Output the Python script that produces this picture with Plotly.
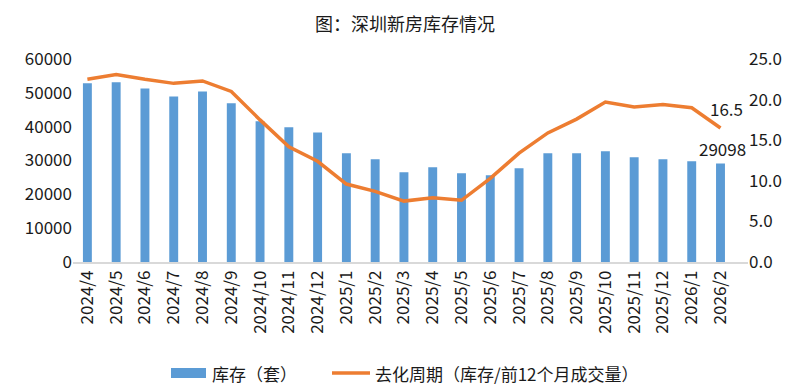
import plotly.graph_objects as go

months = ["2024/4", "2024/5", "2024/6", "2024/7", "2024/8", "2024/9", "2024/10", "2024/11", "2024/12",
          "2025/1", "2025/2", "2025/3", "2025/4", "2025/5", "2025/6", "2025/7", "2025/8", "2025/9",
          "2025/10", "2025/11", "2025/12", "2026/1", "2026/2"]

inventory = [52800, 53100, 51300, 48900, 50400, 46900, 41600, 39800, 38300,
             32150, 30400, 26550, 28000, 26250, 25650, 27700, 32150, 32150,
             32700, 30950, 30400, 29800, 29098]
cycle = [22.5, 23.1, 22.5, 22.0, 22.3, 21.0, 17.5, 14.2, 12.4,
         9.6, 8.7, 7.5, 7.9, 7.6, 10.3, 13.4, 15.9, 17.6,
         19.7, 19.1, 19.4, 19.0, 16.5]

name_bar = "库存（套）"
name_line = "去化周期（库存/前12个月成交量）"
title = "图：深圳新房库存情况"

FONT = "Noto Sans CJK SC, Noto Sans, sans-serif"
TXT = "#1a1a1a"
BLUE = "#5B9BD5"
ORANGE = "#ED7D31"

# page body has an 8px margin, so the figure is drawn 8px in from the corner
OFF = 8
W, H = 810 - OFF, 390 - OFF
ml, mr, mt, mb = 73 - OFF, 62, 59 - OFF, 128

fig = go.Figure()
fig.add_trace(go.Bar(
    x=months, y=inventory, name=name_bar,
    marker=dict(color=BLUE, line=dict(width=0)),
    yaxis="y", showlegend=False,
))
fig.add_trace(go.Scatter(
    x=months, y=cycle, name=name_line, mode="lines",
    line=dict(color=ORANGE, width=3.5),
    yaxis="y2", showlegend=False,
))

# data labels on the last points
fig.add_annotation(x=months[-1], y=inventory[-1], yref="y", text=str(inventory[-1]),
                   showarrow=False, yanchor="bottom", yshift=1, xshift=2,
                   font=dict(size=17, color=TXT, family=FONT))
fig.add_annotation(x=months[-1], y=cycle[-1], yref="y2", text=f"{cycle[-1]:.1f}",
                   showarrow=False, yanchor="bottom", yshift=5, xshift=6,
                   font=dict(size=17, color=TXT, family=FONT))

# title and manual legend (paper coordinates, given in page pixels)
pw, ph = W - ml - mr, H - mt - mb

def px(x):
    return (x - OFF - ml) / pw

def py(y):
    return (H - mb - (y - OFF)) / ph

fig.add_annotation(xref="paper", yref="paper", x=px(405), y=py(OFF), text=title,
                   showarrow=False, xanchor="center", yanchor="top",
                   font=dict(size=18, color=TXT, family=FONT))

ly = 373
fig.add_shape(type="rect", xref="paper", yref="paper",
              x0=px(171), x1=px(206), y0=py(378), y1=py(368),
              fillcolor=BLUE, line=dict(width=0))
fig.add_annotation(xref="paper", yref="paper", x=px(210), y=py(ly), text=name_bar,
                   showarrow=False, xanchor="left", yanchor="middle",
                   font=dict(size=17, color=TXT, family=FONT))
fig.add_shape(type="line", xref="paper", yref="paper",
              x0=px(332), x1=px(370), y0=py(ly), y1=py(ly),
              line=dict(color=ORANGE, width=3.5))
fig.add_annotation(xref="paper", yref="paper", x=px(373), y=py(ly), text=name_line,
                   showarrow=False, xanchor="left", yanchor="middle",
                   font=dict(size=17, color=TXT, family=FONT))

fig.update_layout(
    width=W, height=H,
    margin=dict(l=ml, r=mr, t=mt, b=mb, autoexpand=False),
    paper_bgcolor="white", plot_bgcolor="white",
    font=dict(family=FONT, size=17, color=TXT),
    bargap=0.69,
    showlegend=False,
    xaxis=dict(
        type="category", tickangle=-90, showgrid=False, automargin=False,
        showline=True, linecolor="#D9D9D9", linewidth=1.5,
        ticks="", tickfont=dict(size=17, family=FONT, color=TXT),
    ),
    yaxis=dict(
        range=[0, 60000], dtick=10000, tickformat="d", showgrid=False, automargin=False,
        zeroline=False, showline=False, ticks="",
        tickfont=dict(size=17, family=FONT, color=TXT),
    ),
    yaxis2=dict(
        range=[0, 25], dtick=5, tickformat=".1f", overlaying="y", side="right",
        showgrid=False, zeroline=False, showline=False, ticks="", automargin=False,
        tickfont=dict(size=17, family=FONT, color=TXT),
    ),
)

fig.write_html("out.html")
